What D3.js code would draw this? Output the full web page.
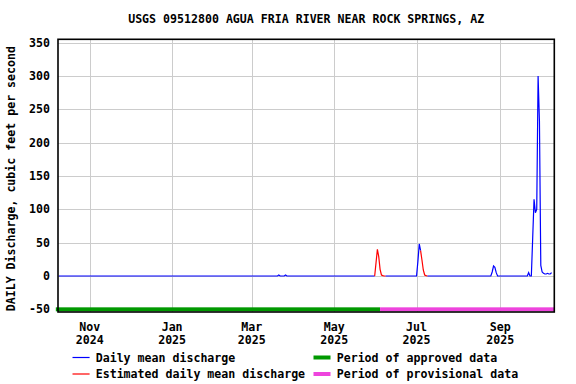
<!DOCTYPE html>
<html>
<head>
<meta charset="utf-8">
<script src="https://cdn.jsdelivr.net/npm/d3@7"></script>
<style>
  body { margin: 0; background: #fff; }
  svg { display: block; }
  text { font-family: "DejaVu Sans Mono", monospace; font-weight: bold; font-size: 11.6px; fill: #000; }
</style>
</head>
<body>
<div id="chart"></div>
<script>
// Daily mean discharge (breakpoints; flat zero between them)
const flowDates = [
  "2024-10-09", "2025-03-20", "2025-03-21", "2025-03-22", "2025-03-25", "2025-03-26", "2025-03-27",
  "2025-05-31", "2025-06-01", "2025-06-02", "2025-06-03", "2025-06-04", "2025-06-05", "2025-06-06",
  "2025-06-07", "2025-06-08", "2025-07-01", "2025-07-02", "2025-07-03", "2025-07-04", "2025-07-05",
  "2025-07-06", "2025-07-07", "2025-07-08", "2025-07-09", "2025-08-25", "2025-08-26", "2025-08-27",
  "2025-08-28", "2025-08-29", "2025-08-30", "2025-09-21", "2025-09-22", "2025-09-23", "2025-09-24",
  "2025-09-25", "2025-09-26", "2025-09-27", "2025-09-28", "2025-09-29", "2025-09-30", "2025-10-01",
  "2025-10-02", "2025-10-03", "2025-10-04", "2025-10-05", "2025-10-06", "2025-10-07", "2025-10-08",
  "2025-10-09"
];
const flowValues = [
  0, 0, 1.5, 0, 0, 1.5, 0,
  0, 20, 40, 29, 10, 1.5, 0.5,
  0, 0, 0, 22, 48, 38, 24,
  9, 1.5, 0.5, 0, 0, 6, 15,
  13, 5, 0, 0, 5, 0, 0,
  57, 115, 95, 100, 300, 232, 16,
  6, 4, 3, 3, 4, 3, 3,
  5
];

// Estimated periods (drawn red)
const estimatedStart = ["2025-05-31", "2025-07-04"];
const estimatedEnd = ["2025-06-08", "2025-07-09"];

// Approval status periods
const periodStart = ["2024-10-08", "2025-06-04"];
const periodEnd = ["2025-06-04", "2025-10-11"];
const periodLabels = ["Period of approved data", "Period of provisional data"];
const periodColors = ["#009900", "#ee44dd"];

const monthTicks = ["2024-11-01", "2025-01-01", "2025-03-01", "2025-05-01", "2025-07-01", "2025-09-01"];
const yTicks = [-50, 0, 50, 100, 150, 200, 250, 300, 350];

const title = "USGS 09512800 AGUA FRIA RIVER NEAR ROCK SPRINGS, AZ";
const yLabel = "DAILY Discharge, cubic feet per second";

const W = 576, H = 384;
const plot = { left: 58, right: 554.3, top: 39.3, bottom: 312 };

const parse = d3.utcParse("%Y-%m-%d");
const data = flowDates.map((d, i) => ({ date: parse(d), value: flowValues[i] }));
const estRanges = estimatedStart.map((s, i) => [parse(s), parse(estimatedEnd[i])]);

// true for points strictly inside an estimated period
const insideEstimated = d => estRanges.some(([a, b]) => d.date > a && d.date < b);

const x = d3.scaleUtc()
  .domain([new Date(Date.UTC(2024, 9, 8, 12)), new Date(Date.UTC(2025, 9, 11))])
  .range([plot.left, plot.right]);
const y = d3.scaleLinear().domain([-54, 355]).range([plot.bottom, plot.top]);

const svg = d3.select("#chart").append("svg")
  .attr("width", W)
  .attr("height", H);

// Title
svg.append("text")
  .attr("x", (plot.left + plot.right) / 2)
  .attr("y", 23)
  .attr("text-anchor", "middle")
  .text(title);

// Grid
const grid = svg.append("g").attr("stroke", "#cccccc").attr("stroke-width", 1);
grid.selectAll(".hgrid")
  .data(yTicks)
  .join("line")
  .attr("x1", plot.left).attr("x2", plot.right)
  .attr("y1", d => Math.round(y(d)) + 0.5)
  .attr("y2", d => Math.round(y(d)) + 0.5);
grid.selectAll(".vgrid")
  .data(monthTicks.map(parse))
  .join("line")
  .attr("x1", d => Math.round(x(d)) + 0.5)
  .attr("x2", d => Math.round(x(d)) + 0.5)
  .attr("y1", plot.top).attr("y2", plot.bottom);

// Approval status bars along -50
svg.append("g").selectAll("rect")
  .data(periodStart.map((s, i) => ({ start: parse(s), end: parse(periodEnd[i]), color: periodColors[i] })))
  .join("rect")
  .attr("x", (d, i) => x(d.start) - (i === 0 ? 1.5 : 0))
  .attr("width", (d, i) => x(d.end) - x(d.start) + (i === 0 ? 1.5 : 0))
  .attr("y", y(-50) - 2)
  .attr("height", 4)
  .attr("fill", d => d.color);

// Discharge lines
const line = d3.line()
  .x(d => x(d.date))
  .y(d => y(d.value));

svg.append("path")
  .datum(data)
  .attr("fill", "none")
  .attr("stroke", "#0000ff")
  .attr("stroke-width", 1.2)
  .attr("d", line.defined(d => !insideEstimated(d)));

line.defined(() => true);
estRanges.forEach(([a, b]) => {
  svg.append("path")
    .datum(data.filter(d => d.date >= a && d.date <= b))
    .attr("fill", "none")
    .attr("stroke", "#ff0000")
    .attr("stroke-width", 1.2)
    .attr("d", line);
});

// Frame
svg.append("rect")
  .attr("x", plot.left)
  .attr("y", plot.top)
  .attr("width", plot.right - plot.left)
  .attr("height", plot.bottom - plot.top)
  .attr("fill", "none")
  .attr("stroke", "#000")
  .attr("stroke-width", 1.6);

// Y tick labels
svg.append("g").selectAll("text")
  .data(yTicks)
  .join("text")
  .attr("x", 50)
  .attr("y", d => y(d) + 4)
  .attr("text-anchor", "end")
  .text(d => d);

// Y axis label
svg.append("text")
  .attr("transform", `translate(15,${(plot.top + plot.bottom) / 2 + 3}) rotate(-90)`)
  .attr("text-anchor", "middle")
  .text(yLabel);

// X tick labels (month over year)
const xl = svg.append("g").selectAll("g")
  .data(monthTicks.map(parse))
  .join("g")
  .attr("transform", d => `translate(${x(d)},0)`);
xl.append("text").attr("y", 331).attr("text-anchor", "middle").text(d3.utcFormat("%b"));
xl.append("text").attr("y", 344).attr("text-anchor", "middle").text(d3.utcFormat("%Y"));

// Legend
const legend = svg.append("g");
const lineItems = [
  { label: "Daily mean discharge", color: "#0000ff" },
  { label: "Estimated daily mean discharge", color: "#ff0000" }
];
lineItems.forEach((d, i) => {
  const yy = 357.5 + i * 16.5;
  legend.append("line")
    .attr("x1", 72.5).attr("x2", 89.6)
    .attr("y1", yy).attr("y2", yy)
    .attr("stroke", d.color).attr("stroke-width", 1.2);
  legend.append("text").attr("x", 95.7).attr("y", yy + 4).text(d.label);
});
periodLabels.forEach((label, i) => {
  const yy = 357.5 + i * 16.5;
  legend.append("rect")
    .attr("x", 313.5).attr("y", yy - 2)
    .attr("width", 17).attr("height", 4)
    .attr("fill", periodColors[i]);
  legend.append("text").attr("x", 336.7).attr("y", yy + 4).text(label);
});
</script>
</body>
</html>
